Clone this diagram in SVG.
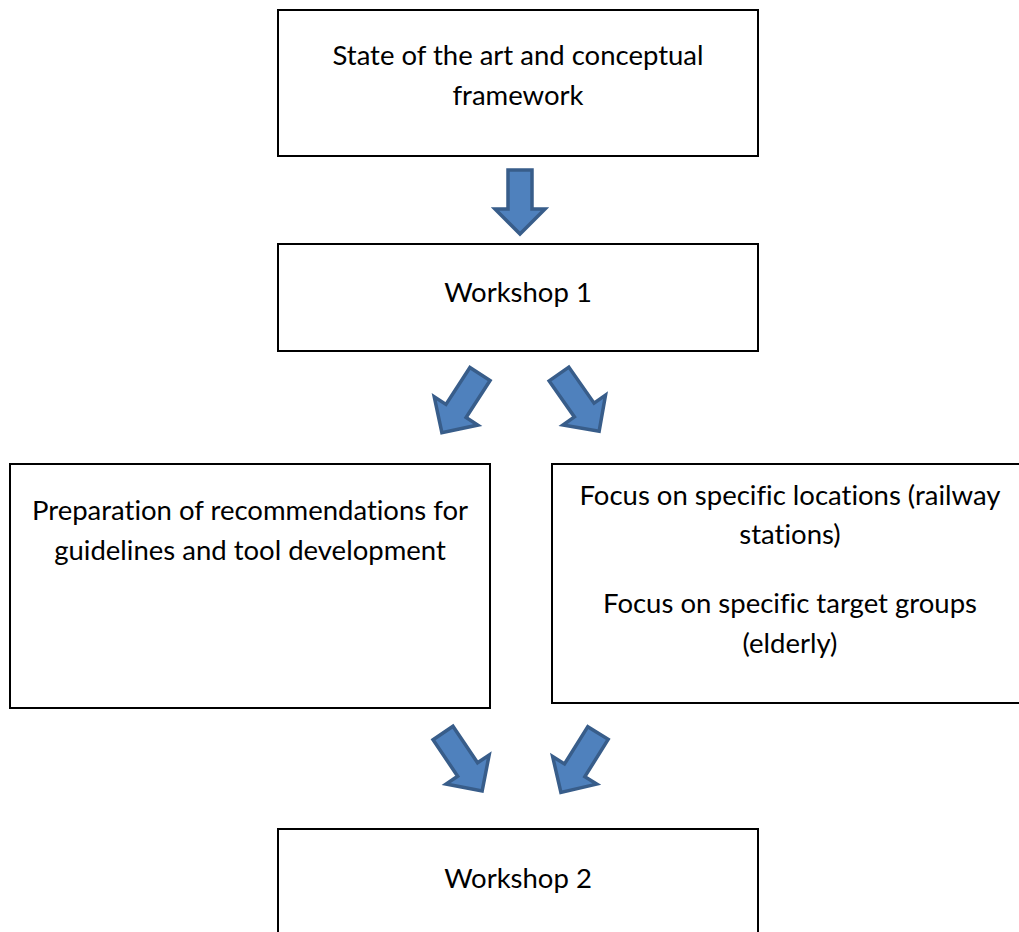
<svg xmlns="http://www.w3.org/2000/svg" width="1019" height="932" viewBox="0 0 1019 932">
<defs>
<style>
.box{fill:#ffffff;stroke:#000000;stroke-width:2}
.t{font-family:Lato,"Liberation Sans",sans-serif;font-size:27.5px;fill:#000000;text-anchor:middle;font-variant-ligatures:none}
.arr{fill:#4F81BD;stroke:#385D8A;stroke-width:3.5;stroke-linejoin:miter}
</style>
<path id="aStraight" d="M-12,0 H12 V39 H25 L0,64 L-25,39 H-12 Z"/>
<path id="aDiag" d="M-12,0 H12 V44 H26 L0,70 L-26,44 H-12 Z"/>
</defs>
<rect width="1019" height="932" fill="#ffffff"/>
<g id="node-state">
<rect class="box" x="278" y="10" width="480" height="146"/>
<text class="t" x="518" y="65">State of the art and conceptual</text>
<text class="t" x="518" y="105">framework</text>
</g>
<g id="node-workshop1">
<rect class="box" x="278" y="244" width="480" height="107"/>
<text class="t" x="518" y="302">Workshop 1</text>
</g>
<g id="node-preparation">
<rect class="box" x="10" y="464" width="480" height="244"/>
<text class="t" x="250" y="520">Preparation of recommendations for</text>
<text class="t" x="250" y="560">guidelines and tool development</text>
</g>
<g id="node-focus">
<rect class="box" x="552" y="464" width="480" height="239"/>
<text class="t" x="790" y="505">Focus on specific locations (railway</text>
<text class="t" x="790" y="544">stations)</text>
<text class="t" x="790" y="613">Focus on specific target groups</text>
<text class="t" x="790" y="653">(elderly)</text>
</g>
<g id="node-workshop2">
<rect class="box" x="278" y="829" width="480" height="120"/>
<text class="t" x="518" y="888">Workshop 2</text>
</g>
<g id="connectors">
<use href="#aStraight" class="arr" transform="translate(520,170)"/>
<use href="#aDiag" class="arr" transform="translate(480,374) rotate(33)"/>
<use href="#aDiag" class="arr" transform="translate(559,374) rotate(-35)"/>
<use href="#aDiag" class="arr" transform="translate(443,733) rotate(-34)"/>
<use href="#aDiag" class="arr" transform="translate(598,733) rotate(32)"/>
</g>
</svg>
